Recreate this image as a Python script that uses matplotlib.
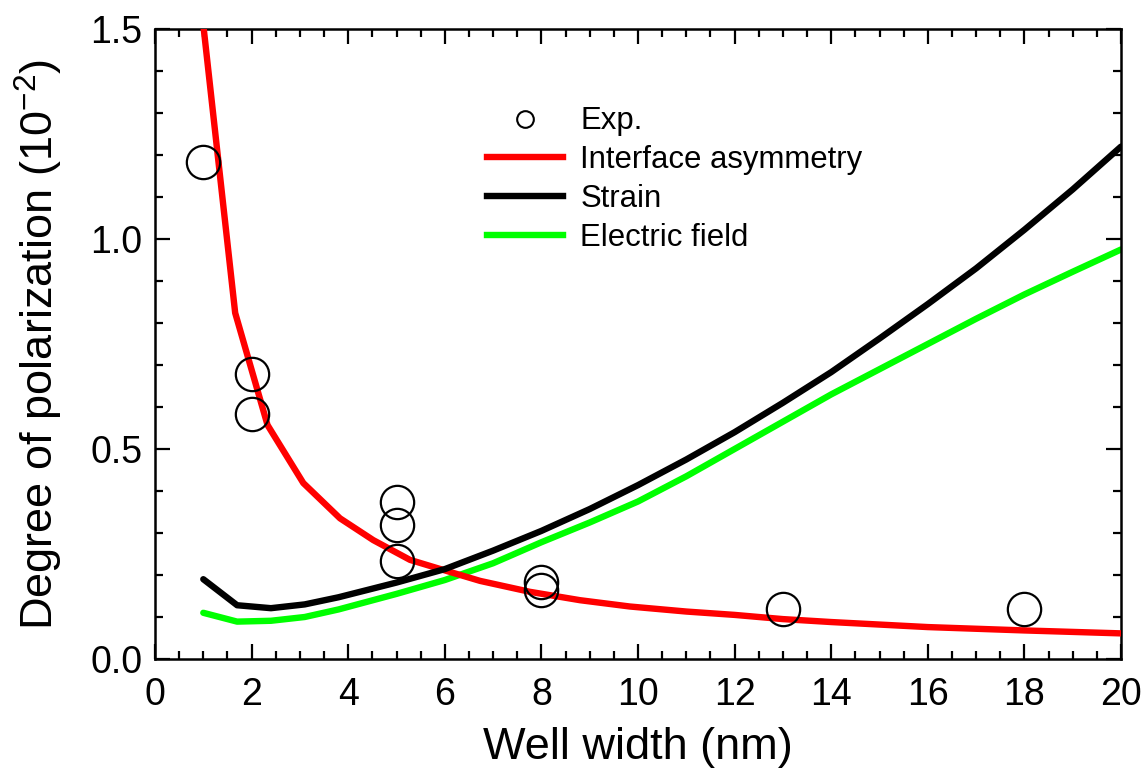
import matplotlib
matplotlib.use("Agg")
import matplotlib.pyplot as plt
from matplotlib.lines import Line2D
from matplotlib.ticker import MultipleLocator, FormatStrFormatter

plt.rcParams['font.family'] = ['Liberation Sans', 'DejaVu Sans']
plt.rcParams['mathtext.fontset'] = 'custom'
plt.rcParams['mathtext.rm'] = 'Liberation Sans'
plt.rcParams['mathtext.it'] = 'Liberation Sans'

# Experimental degree of polarization (10^-2) vs well width (nm)
exp_width = [1, 2, 2, 5, 5, 5, 8, 8, 13, 18]
exp_pol = [1.183, 0.679, 0.583, 0.375, 0.319, 0.234, 0.184, 0.164, 0.119, 0.119]

# Interface asymmetry model
iface_width = [1.0, 1.66, 2.33, 3.07, 3.83, 4.52, 5.28, 5.97, 6.73, 7.76, 8.8,
               9.83, 11, 12, 13, 14, 16, 18, 20]
iface_pol = [1.51, 0.824, 0.557, 0.419, 0.335, 0.283, 0.236, 0.212, 0.186, 0.160,
             0.140, 0.125, 0.113, 0.105, 0.095, 0.088, 0.076, 0.068, 0.061]

# Strain and electric-field models
model_width = [1.0, 1.7, 2.4, 3.1, 3.8, 5, 6, 7, 8, 9, 10, 11, 12, 13, 14, 15,
               16, 17, 18, 19, 20]
strain_pol = [0.190, 0.128, 0.121, 0.130, 0.147, 0.182, 0.214, 0.258, 0.305,
              0.357, 0.414, 0.475, 0.540, 0.610, 0.683, 0.763, 0.845, 0.930,
              1.022, 1.118, 1.220]
field_pol = [0.110, 0.089, 0.091, 0.100, 0.118, 0.155, 0.188, 0.228, 0.278,
             0.325, 0.375, 0.435, 0.500, 0.565, 0.630, 0.690, 0.750, 0.810,
             0.868, 0.922, 0.975]

LW = 4.6

fig = plt.figure(figsize=(11.45, 7.75), dpi=100)
ax = fig.add_axes([155 / 1145, 1 - 659 / 775, 966 / 1145, 630 / 775])

ax.plot(iface_width, iface_pol, color='#ff0000', lw=LW, solid_capstyle='butt', zorder=3)
ax.plot(model_width, strain_pol, color='black', lw=LW, solid_capstyle='round', zorder=3)
ax.plot(model_width, field_pol, color='#00ff00', lw=LW, solid_capstyle='round', zorder=2)
ax.plot(exp_width, exp_pol, ls='none', marker='o', ms=24, mfc='none', mec='black',
        mew=1.6, zorder=4)

ax.set_xlim(0, 20)
ax.set_ylim(0, 1.5)
ax.xaxis.set_major_locator(MultipleLocator(2))
ax.xaxis.set_minor_locator(MultipleLocator(0.5))
ax.yaxis.set_major_locator(MultipleLocator(0.5))
ax.yaxis.set_minor_locator(MultipleLocator(0.1))
ax.yaxis.set_major_formatter(FormatStrFormatter('%.1f'))

ax.tick_params(which='both', direction='in', top=True, right=True, width=1.6,
               labelsize=27)
ax.tick_params(axis='x', pad=13)
ax.tick_params(axis='y', pad=9)
ax.tick_params(which='major', length=11)
ax.tick_params(which='minor', length=5.5)
for s in ax.spines.values():
    s.set_linewidth(1.8)

ax.set_xlabel('Well width (nm)', fontsize=32.5, labelpad=10)
ax.set_ylabel('Degree of polarization (10$^{-2}$)', fontsize=32.5, labelpad=18)

handles = [
    Line2D([], [], ls='none', marker='o', ms=12, mfc='none', mec='black', mew=1.5),
    Line2D([], [], color='#ff0000', lw=LW),
    Line2D([], [], color='black', lw=LW),
    Line2D([], [], color='#00ff00', lw=LW),
]
labels = ['Exp.', 'Interface asymmetry', 'Strain', 'Electric field']
ax.legend(handles, labels, loc='upper left', bbox_to_anchor=(0.344, 0.877),
          frameon=False, fontsize=22.4, handlelength=2.44, handletextpad=0.55,
          labelspacing=0.28, borderpad=0, borderaxespad=0)

fig.savefig('out.png', dpi=100)
